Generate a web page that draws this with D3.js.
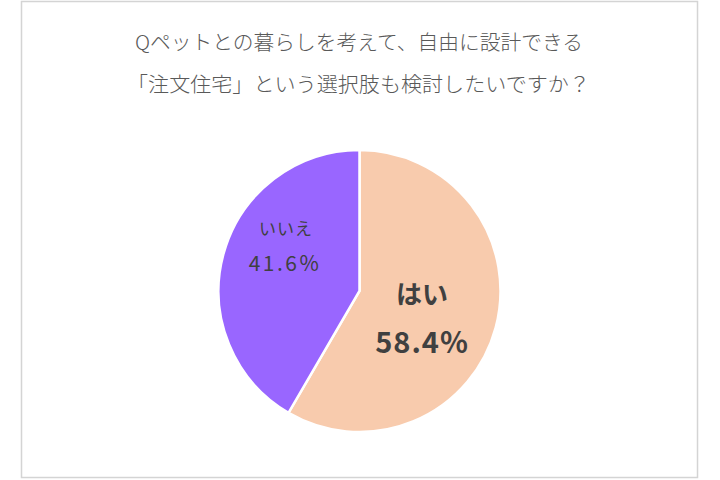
<!DOCTYPE html>
<html><head><meta charset="utf-8">
<script src="https://cdn.jsdelivr.net/npm/d3@7"></script>
<style>body{margin:0;background:#fff;}svg{display:block;}</style>
</head><body>
<svg id="c" width="720" height="480"></svg>
<script>
const titleLines = ["Qペットとの暮らしを考えて、自由に設計できる", "「注文住宅」という選択肢も検討したいですか？"];
const categories = ["はい", "いいえ"];
const values = [58.4, 41.6];
const colors = ["#F8CBAD", "#9966FF"];

const svg = d3.select("#c");
svg.append("rect").attr("x",21.5).attr("y",1.5).attr("width",676).attr("height",476)
  .attr("fill","#fff").attr("stroke","#d4d4d4").attr("stroke-width",1.5);

const font = "'Noto Sans CJK JP','Noto Sans',sans-serif";
const titleGeom = [{x:135,w:448,y:49.5},{x:127,w:463,y:91.5}];
svg.selectAll("text.title").data(titleLines).join("text")
  .attr("class","title").attr("x",(d,i)=>titleGeom[i].x).attr("y",(d,i)=>titleGeom[i].y)
  .attr("textLength",(d,i)=>titleGeom[i].w).attr("lengthAdjust","spacingAndGlyphs")
  .attr("font-family",font).attr("font-size",20.5).attr("font-weight",300)
  .attr("fill","#595959").text(d=>d);

const cx=359.5, cy=291, r=141;
const data = categories.map((c,i)=>({cat:c,val:values[i]}));
const pie = d3.pie().value(d=>d.val).sort(null);
const arc = d3.arc().innerRadius(0).outerRadius(r);
const g = svg.append("g").attr("transform",`translate(${cx},${cy})`);
const arcs = pie(data);
g.selectAll("path").data(arcs).join("path")
  .attr("d",arc).attr("fill",(d,i)=>colors[i]).attr("stroke","#fff").attr("stroke-width",2.5);

const styles = [
  {nameSize:26, valSize:29, weight:"bold", nx:62.5, ny:6, vx:62.5, vy:54, nls:0, ls:1},
  {nameSize:17, valSize:21, weight:"normal", nx:-73.5, ny:-61, vx:-74.5, vy:-26, nls:1, ls:2.5}
];
arcs.forEach((a,i)=>{
  const s = styles[i];
  g.append("text").attr("x",s.nx).attr("y",s.ny).attr("text-anchor","middle")
    .attr("dominant-baseline","middle").attr("letter-spacing",s.nls)
    .attr("font-family",font).attr("font-size",s.nameSize).attr("font-weight",s.weight)
    .attr("fill","#404040").text(a.data.cat);
  g.append("text").attr("x",s.vx).attr("y",s.vy).attr("text-anchor","middle")
    .attr("dominant-baseline","middle")
    .attr("font-family",font).attr("font-size",s.valSize).attr("font-weight",s.weight)
    .attr("letter-spacing",s.ls)
    .attr("fill","#404040").text(a.data.val.toFixed(1)+"%");
});
</script>
</body></html>
